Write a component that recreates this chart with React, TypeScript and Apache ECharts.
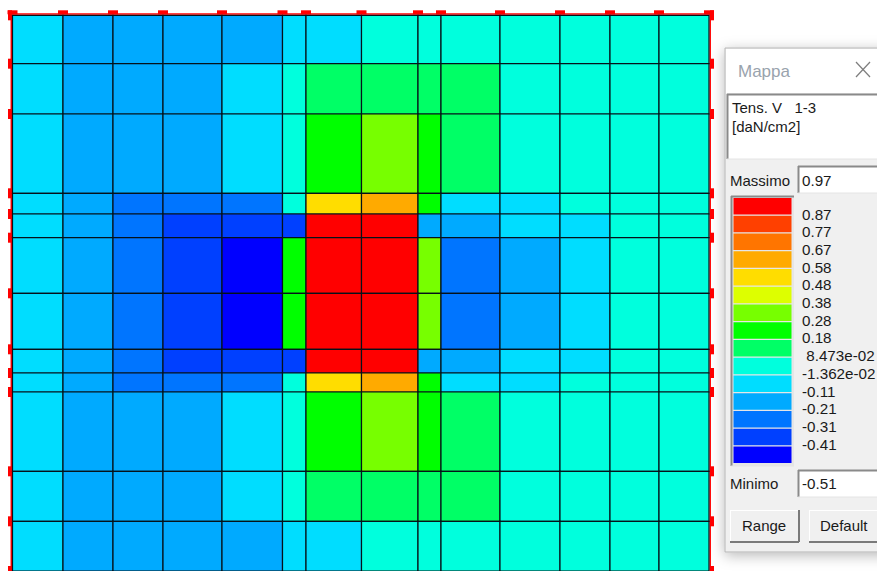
import React, { useEffect, useRef } from "react";
import * as echarts from "echarts";

// Mesh node positions (model units) along each direction
const xNodes = [0, 50.5, 100.5, 150.5, 209.5, 270, 293.5, 349, 405.5, 428.5, 487.5, 547.5, 597.5, 646.5, 696.5];
const yNodes = [0, 48.4, 98.7, 178, 198.7, 222.4, 278, 334, 357.7, 376.7, 456, 506, 555.7];

// Colour bands, top of the legend first
const bandColors = ["#ff0000", "#ff4000", "#ff7500", "#ffaa00", "#ffdd00", "#ddff00", "#77ff00", "#00ff00", "#00ff66", "#00ffdd", "#00ddff", "#00aaff", "#0075ff", "#0040ff", "#0000ff"];
const bandLabels = ["0.87", "0.77", "0.67", "0.58", "0.48", "0.38", "0.28", "0.18", " 8.473e-02", "-1.362e-02", "-0.11", "-0.21", "-0.31", "-0.41"];
const maxLabel = "0.97";
const minLabel = "-0.51";

// Estimated stress per cell, row by row (daN/cm2)
const row0 = [-0.06, -0.16, -0.16, -0.16, -0.16, -0.06, -0.06, 0.03, 0.03, 0.03, 0.03, 0.03, 0.03, 0.03];
const row1 = [-0.06, -0.16, -0.16, -0.16, -0.06, 0.03, 0.13, 0.13, 0.13, 0.13, 0.03, 0.03, 0.03, 0.03];
const row2 = [-0.06, -0.16, -0.16, -0.16, -0.06, 0.03, 0.23, 0.33, 0.23, 0.13, 0.03, 0.03, 0.03, 0.03];
const row3 = [-0.06, -0.16, -0.26, -0.26, -0.26, 0.03, 0.53, 0.62, 0.23, -0.06, -0.06, 0.03, 0.03, 0.03];
const row4 = [-0.06, -0.16, -0.26, -0.36, -0.36, -0.36, 0.92, 0.92, -0.16, -0.16, -0.06, -0.06, 0.03, 0.03];
const row5 = [-0.06, -0.16, -0.26, -0.36, -0.46, 0.23, 0.92, 0.92, 0.33, -0.26, -0.16, -0.06, 0.03, 0.03];
const row6 = [-0.06, -0.16, -0.26, -0.36, -0.46, 0.23, 0.92, 0.92, 0.33, -0.26, -0.16, -0.06, 0.03, 0.03];
const row7 = [-0.06, -0.16, -0.26, -0.36, -0.36, -0.36, 0.92, 0.92, -0.16, -0.16, -0.06, -0.06, 0.03, 0.03];
const row8 = [-0.06, -0.16, -0.26, -0.26, -0.26, 0.03, 0.53, 0.62, 0.23, -0.06, -0.06, 0.03, 0.03, 0.03];
const row9 = [-0.06, -0.16, -0.16, -0.16, -0.06, 0.03, 0.23, 0.33, 0.23, 0.13, 0.03, 0.03, 0.03, 0.03];
const row10 = [-0.06, -0.16, -0.16, -0.16, -0.06, 0.03, 0.13, 0.13, 0.13, 0.13, 0.03, 0.03, 0.03, 0.03];
const row11 = [-0.06, -0.16, -0.16, -0.16, -0.16, -0.06, -0.06, 0.03, 0.03, 0.03, 0.03, 0.03, 0.03, 0.03];
const rows = [row0, row1, row2, row3, row4, row5, row6, row7, row8, row9, row10, row11];

const colorOf = (v: number) => {
  for (let i = 0; i < bandLabels.length; i++) {
    if (v >= parseFloat(bandLabels[i])) return bandColors[i];
  }
  return bandColors[bandColors.length - 1];
};

const FONT = '"Liberation Sans", Arial, sans-serif';
const NUMFONT = `15.2px ${FONT}`;
const LABELFONT = `15px ${FONT}`;

const rect = (x: number, y: number, width: number, height: number, fill: string, stroke?: string, extra: any = {}) => ({
  type: "rect",
  silent: true,
  shape: { x, y, width, height },
  style: { fill, stroke: stroke ?? "none", lineWidth: stroke ? 1 : 0, ...extra },
});
const text = (x: number, y: number, t: string, font: string, fill = "#1a1a1a") => ({
  type: "text",
  silent: true,
  style: { x, y, text: t, font, fill, textVerticalAlign: "middle", textAlign: "left" },
});
const line = (x1: number, y1: number, x2: number, y2: number, stroke: string, lineWidth = 1) => ({
  type: "line",
  silent: true,
  shape: { x1, y1, x2, y2 },
  style: { stroke, lineWidth },
});
const inset = (x: number, y: number, w: number, h: number, fill: string) => [
  rect(x, y, w, h, fill),
  line(x, y + 0.5, x + w, y + 0.5, "#8a8a8a", 2),
  line(x + 0.5, y, x + 0.5, y + h, "#8a8a8a", 2),
  line(x, y + h, x + w, y + h, "#e4e4e4", 1),
];
const button = (x: number, y: number, w: number, h: number, t: string, tx: number) => [
  rect(x, y, w, h, "#f0f0f0"),
  line(x, y + 0.5, x + w, y + 0.5, "#ffffff", 1),
  line(x + 0.5, y, x + 0.5, y + h, "#ffffff", 1),
  line(x, y + h, x + w, y + h, "#7a7a7a", 2),
  line(x + w, y, x + w, y + h, "#7a7a7a", 2),
  text(tx, y + 15, t, LABELFONT),
];

const panelElements = () => {
  const pitch = 17.75;
  const swatches = bandColors.map((c, i) => rect(733.5, 198 + i * pitch, 58, 16.4, c));
  const labels = bandLabels.map((t, i) => text(802, 214 + i * 17.7, t, NUMFONT));
  return [
    rect(725, 48, 170, 504, "#f0f0f0", "#b5b5b5", { shadowBlur: 14, shadowColor: "rgba(0,0,0,0.28)", shadowOffsetX: 0, shadowOffsetY: 3 }),
    rect(726, 49, 160, 44, "#ffffff"),
    text(738, 71, "Mappa", `17px ${FONT}`, "#99a3ad"),
    line(856, 62, 870, 77, "#7d7d7d", 1.2),
    line(870, 62, 856, 77, "#7d7d7d", 1.2),
    ...inset(727, 94, 160, 65, "#ffffff"),
    text(732, 107, "Tens. V   1-3", LABELFONT),
    text(732, 126, "[daN/cm2]", LABELFONT),
    text(730, 180, "Massimo", LABELFONT),
    ...inset(798, 166, 90, 27, "#ffffff"),
    text(802, 180, maxLabel, NUMFONT),
    ...inset(731, 196, 63, 270, "#e6e6e6"),
    ...swatches,
    ...labels,
    text(730, 483, "Minimo", LABELFONT),
    ...inset(798, 470, 90, 27, "#ffffff"),
    text(802, 483, minLabel, NUMFONT),
    ...button(730, 510, 69, 32, "Range", 742),
    ...button(809, 510, 80, 32, "Default", 820),
  ];
};

export default function App() {
  const ref = useRef<HTMLDivElement>(null);
  useEffect(() => {
    document.documentElement.style.margin = "0";
    document.documentElement.style.overflow = "hidden";
    document.body.style.margin = "0";
    document.body.style.overflow = "hidden";
    const chart = echarts.init(ref.current!, undefined, { renderer: "svg", width: 877, height: 571 });
    const cells: number[][] = [];
    rows.forEach((r, j) => r.forEach((v, i) => cells.push([i, j, v])));
    const lastX = xNodes.length - 1;
    const lastY = yNodes.length - 1;
    const nodes: number[][] = [];
    xNodes.forEach((_, i) => nodes.push([i, 0]));
    yNodes.forEach((_, j) => {
      if (j > 0) nodes.push([0, j]);
      if (j > 0) nodes.push([lastX, j]);
    });
    chart.setOption({
      animation: false,
      backgroundColor: "#ffffff",
      grid: { left: 12.5, top: 15.3, width: 696.5, height: 555.7, containLabel: false },
      xAxis: { type: "value", min: 0, max: xNodes[lastX], show: false },
      yAxis: { type: "value", min: 0, max: yNodes[lastY], inverse: true, show: false },
      tooltip: { show: false },
      series: [
        {
          type: "custom",
          name: "frame",
          z: 1,
          silent: true,
          coordinateSystem: "cartesian2d",
          data: nodes,
          encode: { x: 0, y: 1 },
          renderItem: (_: any, api: any) => {
            const i = api.value(0);
            const j = api.value(1);
            const p = api.coord([xNodes[i], yNodes[j]]);
            const isTop = j === 0;
            const isRight = i === lastX;
            const corner = isTop && i === 0;
            const cornerR = isTop && isRight;
            const children: any[] = [];
            if (isTop) {
              children.push({ type: "rect", shape: { x: p[0] - 5, y: p[1] - 5, width: 10, height: 4 }, style: { fill: "#ff0000" } });
            } else {
              const x = isRight ? p[0] + 1 : p[0] - 4.5;
              children.push({ type: "rect", shape: { x, y: p[1] - 5, width: 4, height: 10 }, style: { fill: "#ff0000" } });
            }
            if (corner) children.push({ type: "rect", shape: { x: p[0] - 4.5, y: p[1] - 5, width: 4, height: 10 }, style: { fill: "#ff0000" } });
            if (cornerR) children.push({ type: "rect", shape: { x: p[0] + 1, y: p[1] - 5, width: 4, height: 10 }, style: { fill: "#ff0000" } });
            if (corner || cornerR) {
              const q = api.coord([xNodes[i], yNodes[lastY]]);
              children.push({ type: "line", shape: { x1: p[0] + (corner ? -1.2 : 1.2), y1: p[1] - 1.2, x2: q[0] + (corner ? -1.2 : 1.2), y2: q[1] }, style: { stroke: "#ff0000", lineWidth: 1.5 } });
            }
            if (corner) {
              const q = api.coord([xNodes[lastX], yNodes[0]]);
              children.push({ type: "line", shape: { x1: p[0] - 1.2, y1: p[1] - 1.2, x2: q[0] + 1.2, y2: q[1] - 1.2 }, style: { stroke: "#ff0000", lineWidth: 1.5 } });
            }
            return { type: "group", children };
          },
        },
        {
          type: "custom",
          name: "Tens. V 1-3",
          z: 2,
          silent: true,
          coordinateSystem: "cartesian2d",
          data: cells,
          encode: { x: 0, y: 1 },
          renderItem: (_: any, api: any) => {
            const i = api.value(0);
            const j = api.value(1);
            const a = api.coord([xNodes[i], yNodes[j]]);
            const b = api.coord([xNodes[i + 1], yNodes[j + 1]]);
            return {
              type: "rect",
              shape: { x: a[0], y: a[1], width: b[0] - a[0], height: b[1] - a[1] },
              style: { fill: colorOf(api.value(2)), stroke: "#06121a", lineWidth: 1.2 },
            };
          },
        },
      ],
      graphic: { elements: panelElements() },
    });
    return () => chart.dispose();
  }, []);
  return <div ref={ref} style={{ width: 877, height: 571 }} />;
}
